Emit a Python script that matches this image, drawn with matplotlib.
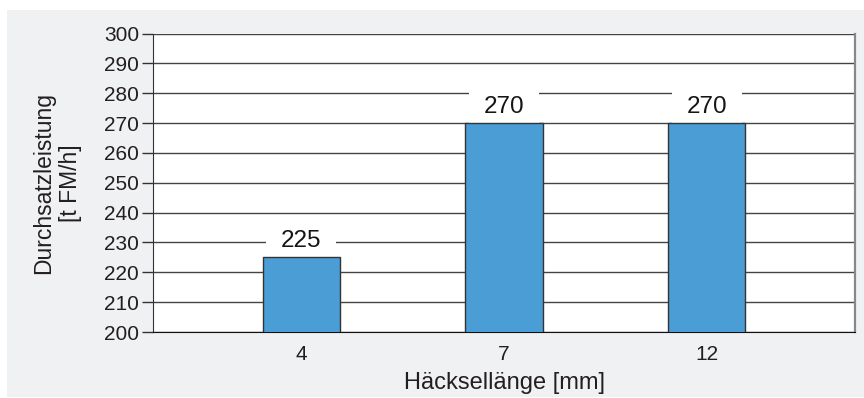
import matplotlib.pyplot as plt
from matplotlib.patches import Rectangle

plt.rcParams.update({"font.family": "Liberation Sans"})

# Durchsatz je Häcksellänge
lengths = ["4", "7", "12"]
throughput = [225, 270, 270]
y_ticks = list(range(200, 301, 10))

W, H = 864, 398
fig = plt.figure(figsize=(W / 100, H / 100), dpi=100)
fig.patch.set_facecolor("white")

# light grey panel behind the chart
fig.patches.append(
    Rectangle((7 / W, 1 / H), 1 - 7 / W, 387 / H, transform=fig.transFigure,
              facecolor="#f0f1f3", edgecolor="none", zorder=-1)
)

ax = fig.add_axes([153 / W, 66 / H, 702 / W, 298.5 / H])
ax.set_facecolor("white")

x = range(len(lengths))
bars = ax.bar(x, throughput, width=0.38, color="#4b9dd5",
              edgecolor="#333333", linewidth=1.0, zorder=3)

# value labels sit on white boxes that cut through the grid, under the bars
for xi, v in zip(x, throughput):
    ax.annotate(f"{v}", (xi, v), xytext=(0, 7.5), textcoords="offset points",
                ha="center", va="baseline", fontsize=17.5,
                color="#151515", zorder=2,
                bbox=dict(boxstyle="square,pad=0.6", facecolor="white",
                          edgecolor="none"))

ax.set_ylim(200, 300)
ax.set_xlim(-0.73, 2.73)
ax.set_yticks(y_ticks)
ax.set_xticks(list(x))
ax.set_xticklabels(lengths)
ax.yaxis.grid(True, color="#444444", linewidth=1.0, zorder=1)
ax.set_axisbelow(True)

ax.tick_params(axis="y", length=8, width=1, color="#333333",
               labelsize=15, labelcolor="#231f20", pad=2)
ax.tick_params(axis="x", length=0, labelsize=15, labelcolor="#231f20", pad=9)

ax.spines["top"].set_visible(False)
ax.spines["left"].set_color("#333333")
ax.spines["bottom"].set_color("#111111")
ax.spines["right"].set_color("#888888")
ax.spines["right"].set_linewidth(1.6)

fig.text(504 / W, 1 - 383 / H, "Häcksellänge [mm]", ha="center", va="center",
         fontsize=17, color="#231f20")
fig.text(57 / W, 1 - 183 / H, "Durchsatzleistung\n[t FM/h]", rotation=90,
         ha="center", va="center", multialignment="center",
         fontsize=16.5, color="#231f20", linespacing=1.2)

fig.savefig("out.png", dpi=100)
